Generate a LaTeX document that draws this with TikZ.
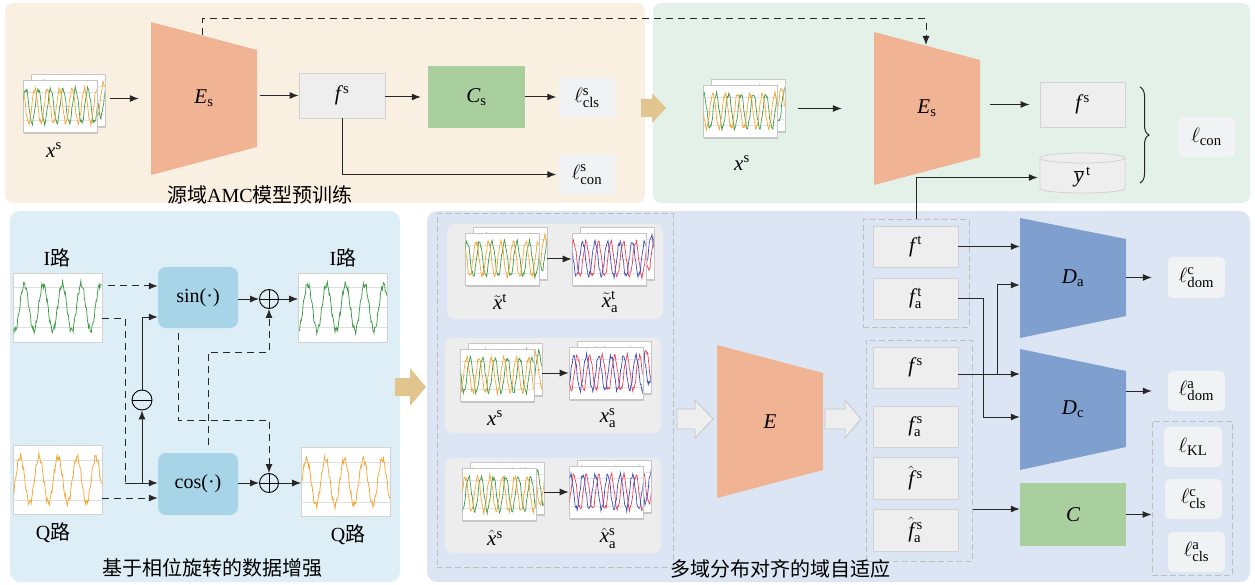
\documentclass[tikz,border=0pt]{standalone}
\usepackage{fontspec}
\setmainfont{Liberation Serif}
\newfontfamily\cjk{Noto Sans CJK SC}
\usetikzlibrary{arrows.meta,shadows,decorations.pathreplacing,calc}
\definecolor{beige}{HTML}{FAF0E1}
\definecolor{mint}{HTML}{E3F1E8}
\definecolor{skyp}{HTML}{DDEEF6}
\definecolor{bluep}{HTML}{DCE5F4}
\definecolor{salmon}{HTML}{F0B394}
\definecolor{dblue}{HTML}{7F9FCF}
\definecolor{cgreen}{HTML}{AACF9F}
\definecolor{trig}{HTML}{A8D4E8}
\definecolor{boxg}{HTML}{EEEEEE}
\definecolor{boxb}{HTML}{D2D2D2}
\definecolor{lossg}{HTML}{F1F2F4}
\definecolor{tanc}{HTML}{E2C48E}
\definecolor{sgreen}{HTML}{3E9A46}
\definecolor{sorange}{HTML}{F5A531}
\definecolor{sred}{HTML}{EE3F52}
\definecolor{sblue}{HTML}{3D4DB8}
\definecolor{subp}{HTML}{EDEDED}
\definecolor{blkarr}{HTML}{EEEEEE}
\tikzset{
 lab/.style={font=\fontsize{21}{24}\selectfont},
 ttl/.style={font=\fontsize{20}{24}\selectfont},
 fbox/.style={draw=boxb, fill=boxg, line width=.8pt, minimum width=85pt, minimum height=41pt, inner sep=0pt, lab},
 cbox/.style={fill=cgreen, minimum width=106pt, minimum height=63pt, inner sep=0pt, lab},
 lossbox/.style={fill=lossg, rounded corners=5pt, minimum width=57pt, minimum height=40pt, inner sep=0pt, lab},
 trapn/.style={minimum width=106pt, minimum height=153pt, inner sep=0pt},
 arr/.style={-{Latex[length=9pt,width=7pt]}, line width=1pt, black!85},
 darr/.style={arr, dash pattern=on 7pt off 5pt},
 dline/.style={line width=1pt, black!85, dash pattern=on 7pt off 5pt},
 grp/.style={draw=gray!50, dash pattern=on 6pt off 3pt, line width=1pt},
 card/.style={draw=gray!45, fill=white, line width=.6pt, minimum width=74pt, minimum height=52pt, inner sep=0pt,
   drop shadow={opacity=0.35, shadow xshift=1.2pt, shadow yshift=-1.6pt}},
 iqcard/.style={draw=gray!35, fill=white, line width=.6pt, minimum width=89pt, minimum height=69pt, inner sep=0pt},
 trigbox/.style={fill=trig, rounded corners=8pt, minimum width=80pt, minimum height=61pt, inner sep=0pt, font=\fontsize{20}{22}\selectfont},
 opl/.style={circle, draw, line width=.9pt, minimum size=19pt, inner sep=0pt,
   path picture={\draw[line width=.9pt] (path picture bounding box.north) -- (path picture bounding box.south)
     (path picture bounding box.west) -- (path picture bounding box.east);}},
 omi/.style={circle, draw, line width=.9pt, minimum size=20pt, inner sep=0pt,
   path picture={\draw[line width=.9pt] (path picture bounding box.west) -- (path picture bounding box.east);}},
}
\newcommand{\twowave}[6]{%
 \begin{scope}[shift={(#1,#2)}]
  \clip (-36.5,-25.5) rectangle (36.5,25.5);
  \foreach \yy in {-14,0,14} \draw[gray!22, line width=.4pt] (-37,\yy) -- (37,\yy);
  \draw[#3, line width=.7pt] plot[domain=-37:37, samples=110] (\x, {-17*sin(29*\x+#5)+1.8*sin(113*\x+#6)+1.1*sin(233*\x)});
  \draw[#4, line width=.7pt] plot[domain=-37:37, samples=110] (\x, {-17*sin(29*\x+#5+100)+1.8*sin(139*\x+#6+70)+1.1*sin(211*\x+50)});
 \end{scope}}
\newcommand{\sigstack}[6]{%
 \node[card] (#1b) at ({#2+8},{#3-6}) {};
 \twowave{#2+8}{#3-6}{#4}{#5}{#6+40}{20}
 \node[card] (#1) at (#2,#3) {};
 \twowave{#2}{#3}{#4}{#5}{#6}{0}}
\newcommand{\iqimg}[5]{%
 \node[iqcard] (#1) at (#2,#3) {};
 \begin{scope}[shift={(#2,#3)}]
  \clip (-44,-34) rectangle (44,34);
  \foreach \yy in {-20,0,20} \draw[gray!25, line width=.4pt] (-44,\yy) -- (44,\yy);
  \draw[#4, line width=.75pt] plot[domain=-44:44, samples=150] (\x,{-23*sin(19*\x+#5)+2.5*sin(121*\x)+1.5*sin(257*\x+30)});
 \end{scope}}
\begin{document}
\begin{tikzpicture}[x=1pt,y=-1pt]
\useasboundingbox (0,0) rectangle (1255,585);
% ---------- panels
\fill[beige, rounded corners=8pt] (5,3) rectangle (645,203);
\fill[mint, rounded corners=8pt] (653,3) rectangle (1250,203);
\fill[skyp, rounded corners=10pt] (10,211) rectangle (400,582);
\fill[bluep, rounded corners=10pt] (427,211) rectangle (1250,582);
% tan block arrows
\fill[tanc] (641,99) -- (652,99) -- (652,93) -- (666,108) -- (652,123) -- (652,117) -- (641,117) -- cycle;
\fill[tanc] (395,378) -- (410,378) -- (410,368) -- (426,387) -- (410,406) -- (410,396) -- (395,396) -- cycle;

% ---------- top-left: source pretraining
\sigstack{TL}{60}{106}{sgreen}{sorange}{0}
\node[lab] (xsTL) at (54,150) {$\mathit{x}^{\mathrm{s}}$};
\fill[salmon] (151,22) -- (257,50) -- (257,147) -- (151,175) -- cycle;
\node[lab, trapn] (Es1) at (204,98.5) {$\mathit{E}_{\mathrm{s}}$};
\node[fbox, minimum width=86pt, minimum height=45pt] (fs1) at (342,95.5) {$\mathit{f}^{\,\mathrm{s}}$};
\node[cbox, minimum width=97pt, minimum height=62pt] (Cs1) at (476.5,97) {$\mathit{C}_{\mathrm{s}}$};
\node[lossbox] (lcls1) at (587,98) {$\ell^{\mathrm{s}}_{\mathrm{cls}}$};
\node[lossbox, minimum height=41pt] (lcon1) at (587,174.5) {$\ell^{\mathrm{s}}_{\mathrm{con}}$};
\draw[arr, shorten <=5pt, shorten >=12pt] (TLb.east |- Es1.west) -- (Es1.west);
\draw[arr, shorten <=3pt] (Es1.east |- fs1.west) -- (fs1.west);
\draw[arr, shorten >=7pt] (fs1.east |- Cs1.west) -- (Cs1.west);
\draw[arr, shorten >=2pt] (Cs1.east) -- (lcls1.west |- Cs1.east);
\draw[arr, shorten >=2pt] (fs1.south) |- (lcon1.west);
\node[ttl] (t1) at (260,195) {{\cjk 源域}AMC{\cjk 模型预训练}};

% ---------- top-right: consistency
\sigstack{TR}{740}{111}{sgreen}{sorange}{60}
\node[lab] (xsTR) at (742,163) {$\mathit{x}^{\mathrm{s}}$};
\fill[salmon] (874,32) -- (980,60) -- (980,157) -- (874,185) -- cycle;
\node[lab, trapn] (Es2) at (927,108.5) {$\mathit{E}_{\mathrm{s}}$};
\node[fbox, minimum height=45pt] (fs2) at (1082.5,104.5) {$\mathit{f}^{\,\mathrm{s}}$};
\fill[boxg] (1040,158) -- (1040,188) .. controls (1040,194.7) and (1125,194.7) .. (1125,188) -- (1125,158) -- cycle;
\draw[boxb, line width=.8pt] (1040,158) -- (1040,188) .. controls (1040,194.7) and (1125,194.7) .. (1125,188) -- (1125,158);
\draw[boxb, fill=boxg, line width=.8pt] (1082.5,158) ellipse [x radius=42.5pt, y radius=5pt];
\node[lab, minimum width=85pt, minimum height=40pt, inner sep=0pt] (cyl) at (1082.5,177) {$\overline{\mathit{y}}^{\,\mathrm{t}}$};
\node[lossbox] (lcon2) at (1206.5,137) {$\ell_{\mathrm{con}}$};
\draw[arr, shorten <=13pt, shorten >=32pt] (TRb.east |- Es2.west) -- (Es2.west);
\draw[arr, shorten <=10pt, shorten >=10pt] (Es2.east |- fs2.west) -- (fs2.west);
\draw[line width=1pt, black!85, decorate, decoration={brace, amplitude=9pt}] (1140,87) -- (1140,183);
\coordinate (d1) at (202,35);
\coordinate (d2) at (926,45);
\draw[darr] (d1) -- (202,19) -| (d2);

% ---------- bottom-left: phase rotation augmentation
\iqimg{Iin}{57.5}{307.5}{sgreen}{0}
\iqimg{Iout}{343}{307.5}{sgreen}{40}
\iqimg{Qin}{57.5}{480}{sorange}{80}
\iqimg{Qout}{346}{482}{sorange}{120}
\node[ttl] (lI1) at (57,258) {I{\cjk 路}};
\node[ttl] (lI2) at (343,258) {I{\cjk 路}};
\node[ttl] (lQ1) at (53,533) {Q{\cjk 路}};
\node[ttl] (lQ2) at (348,535) {Q{\cjk 路}};
\node[trigbox] (sinb) at (198,297.5) {sin(·)};
\node[trigbox, minimum height=62pt] (cosb) at (198,484) {cos(·)};
\node[opl] (plusU) at (269,299) {};
\node[opl] (plusL) at (269,483) {};
\node[omi] (minus) at (142,400) {};
\coordinate (h286) at (0,286);
\coordinate (h317) at (0,317);
\coordinate (h318) at (0,318);
\coordinate (h498) at (0,498);
\coordinate (h420) at (0,420);
\coordinate (h352) at (0,352);
\coordinate (jq) at (125,483);
\coordinate (jm) at (142,483);
\coordinate (sa) at (178,333);
\coordinate (ca) at (208,445);
\draw[darr, shorten <=6pt] (Iin.east |- h286) -- (sinb.west |- h286);
\draw[dline] (Iin.east |- h318) -| (jq);
\draw[arr] (jq) -- (cosb.west |- jq);
\draw[arr] (jm) -- (minus.south);
\draw[arr] (minus.north) |- (sinb.west |- h317);
\draw[darr] (Qin.east |- h498) -- (cosb.west |- h498);
\draw[darr] (sa) -- (sa |- h420) -| (plusL.north);
\draw[darr] (ca) -- (ca |- h352) -| (plusU.south);
\draw[arr] (sinb.east |- plusU.west) -- (plusU.west);
\draw[arr] (plusU.east) -- (Iout.west |- plusU.east);
\draw[arr] (cosb.east |- plusL.west) -- (plusL.west);
\draw[arr] (plusL.east) -- (Qout.west |- plusL.east);
\node[ttl] (t2) at (212,568) {\cjk 基于相位旋转的数据增强};

% ---------- bottom-right: multi-domain alignment
\node[grp, minimum width=236pt, minimum height=353pt] (gL) at (555,390.5) {};
\fill[subp, rounded corners=8pt] (447,224) rectangle (663,319);
\fill[subp, rounded corners=8pt] (445,338) rectangle (661,433);
\fill[subp, rounded corners=8pt] (445,458) rectangle (661,553);
\sigstack{SaL}{502}{259}{sgreen}{sorange}{20}
\sigstack{SaR}{609}{259}{sred}{sblue}{35}
\sigstack{SbL}{497}{375}{sgreen}{sorange}{150}
\sigstack{SbR}{606}{373}{sred}{sblue}{200}
\sigstack{ScL}{499}{494}{sgreen}{sorange}{250}
\sigstack{ScR}{606}{492}{sred}{sblue}{300}
\draw[arr] (SaLb.east |- SaR.west) -- (SaR.west);
\draw[arr] (SbLb.east |- SbR.west) -- (SbR.west);
\draw[arr] (ScLb.east |- ScR.west) -- (ScR.west);
\node[lab] (lx1) at (500,302) {$\tilde{\mathit{x}}^{\mathrm{t}}$};
\node[lab] (lx2) at (610,302) {$\tilde{\mathit{x}}^{\mathrm{t}}_{\mathrm{a}}$};
\node[lab] (lx3) at (495,418) {$\mathit{x}^{\mathrm{s}}$};
\node[lab] (lx4) at (608,418) {$\mathit{x}^{\mathrm{s}}_{\mathrm{a}}$};
\node[lab] (lx5) at (495,538) {$\hat{\mathit{x}}^{\mathrm{s}}$};
\node[lab] (lx6) at (608,538) {$\hat{\mathit{x}}^{\mathrm{s}}_{\mathrm{a}}$};
% block arrows and encoder
\filldraw[fill=blkarr, draw=gray!45, line width=.8pt] (677,409) -- (695,409) -- (695,400) -- (713,419) -- (695,438) -- (695,429) -- (677,429) -- cycle;
\fill[salmon] (717,345) -- (823,373) -- (823,470) -- (717,498) -- cycle;
\node[lab, minimum width=106pt, minimum height=153pt, inner sep=0pt] (E) at (770,421.5) {$\mathit{E}$};
\filldraw[fill=blkarr, draw=gray!45, line width=.8pt] (825,409) -- (845,409) -- (845,400) -- (861,419) -- (845,438) -- (845,429) -- (825,429) -- cycle;
% feature groups
\node[grp, minimum width=106pt, minimum height=107pt] (g1) at (916,273.5) {};
\node[grp, minimum width=106pt, minimum height=221pt] (g2) at (919,450.5) {};
\node[grp, minimum width=80pt, minimum height=154pt] (g3) at (1192,498) {};
\node[fbox] (ft) at (915.5,246.5) {$\mathit{f}^{\,\mathrm{t}}$};
\node[fbox] (fta) at (915.5,298.5) {$\mathit{f}^{\,\mathrm{t}}_{\mathrm{a}}$};
\node[fbox] (fs3) at (915.5,367.5) {$\mathit{f}^{\,\mathrm{s}}$};
\node[fbox] (fsa) at (915.5,426.5) {$\mathit{f}^{\,\mathrm{s}}_{\mathrm{a}}$};
\node[fbox, minimum height=42pt] (fhs) at (915.5,478) {$\hat{\mathit{f}}^{\,\mathrm{s}}$};
\node[fbox, minimum height=42pt] (fhsa) at (915.5,530) {$\hat{\mathit{f}}^{\,\mathrm{s}}_{\mathrm{a}}$};
% discriminators and classifier
\fill[dblue] (1020,218) -- (1126,239) -- (1126,316) -- (1020,338) -- cycle;
\node[lab, minimum width=106pt, minimum height=120pt, inner sep=0pt] (Da) at (1073,278) {$\mathit{D}_{\mathrm{a}}$};
\fill[dblue] (1020,349) -- (1126,371) -- (1126,447) -- (1020,470) -- cycle;
\node[lab, minimum width=106pt, minimum height=121pt, inner sep=0pt] (Dc) at (1073,409.5) {$\mathit{D}_{\mathrm{c}}$};
\node[cbox] (Cb) at (1073,514.5) {$\mathit{C}$};
\node[lossbox, minimum height=41pt] (ldomc) at (1196.5,277.5) {$\ell^{\mathrm{c}}_{\mathrm{dom}}$};
\node[lossbox] (ldoma) at (1196.5,391) {$\ell^{\mathrm{a}}_{\mathrm{dom}}$};
\node[lossbox, minimum width=58pt] (lkl) at (1193,447) {$\ell_{\mathrm{KL}}$};
\node[lossbox] (lclsc) at (1193.5,499) {$\ell^{\mathrm{c}}_{\mathrm{cls}}$};
\node[lossbox] (lclsa) at (1196.5,552) {$\ell^{\mathrm{a}}_{\mathrm{cls}}$};
% connectors
\coordinate (y417) at (0,417);
\coordinate (y374) at (0,374);
\coordinate (y285) at (0,285);
\coordinate (y509) at (0,509);
\coordinate (br) at (997,374);
\draw[line width=1pt, black!85] (g1.north) -- ++(0,-42) coordinate (gup);
\draw[arr, shorten >=2pt] (gup) -- (cyl.west |- gup);
\draw[arr] (ft.east) -- (Da.west |- ft.east);
\draw[arr] (fta.east) -- ++(25,0) |- (Dc.west |- y417);
\draw[arr] (fs3.east |- y374) -- (Dc.west |- y374);
\draw[arr] (br) |- (Da.west |- y285);
\draw[arr] (g2.east |- y509) -- (Cb.west |- y509);
\draw[arr, shorten >=16pt] (Da.east |- ldomc.west) -- (ldomc.west);
\draw[arr, shorten >=16pt] (Dc.east |- ldoma.west) -- (ldoma.west);
\draw[arr] (Cb.east) -- (g3.west |- Cb.east);
\node[ttl] (t3) at (780,569) {\cjk 多域分布对齐的域自适应};
\end{tikzpicture}
\end{document}
